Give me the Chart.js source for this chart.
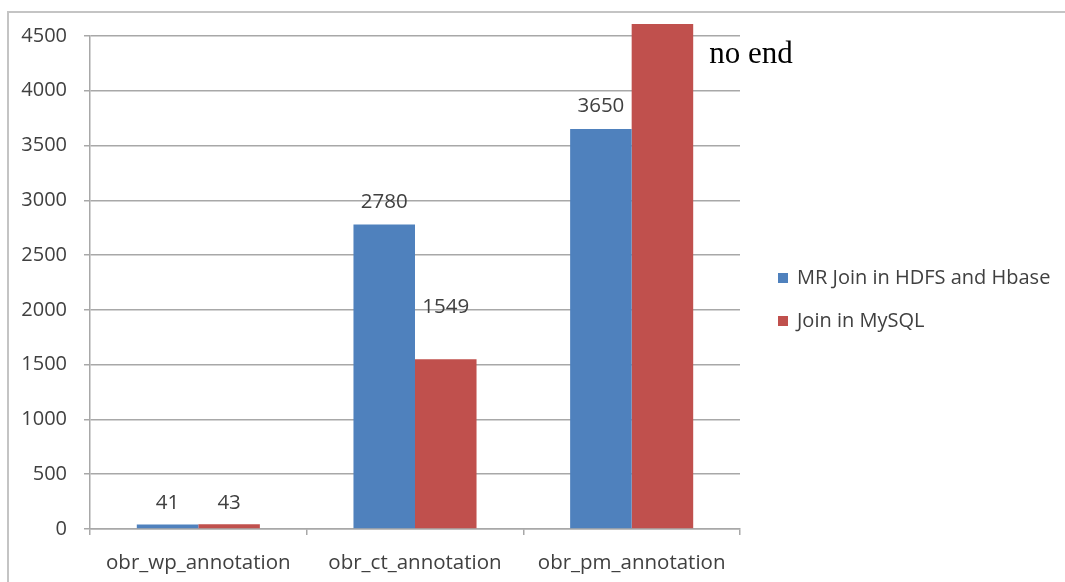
<!DOCTYPE html>
<html><head><meta charset="utf-8">
<script src="https://cdn.jsdelivr.net/npm/chart.js@4/dist/chart.umd.min.js"></script>
<style>
html,body{margin:0;padding:0;background:#fff;width:1065px;height:582px;overflow:hidden}
#frame{position:absolute;left:7px;top:11px;width:1070px;height:580px;border-left:2px solid #c4c4c4;border-top:2px solid #c4c4c4}
#wrap{position:absolute;left:0;top:0;width:1065px;height:582px}
</style></head>
<body><div id="frame"></div><div id="wrap"><canvas id="c" width="1065" height="582"></canvas></div>
<script>
const categories = ['obr_wp_annotation', 'obr_ct_annotation', 'obr_pm_annotation'];
const seriesNames = ['MR Join in HDFS and Hbase', 'Join in MySQL'];
const mrJoin = [41, 2780, 3650];
const mysqlJoin = [43, 1549, 4610];
const yTicks = [0, 500, 1000, 1500, 2000, 2500, 3000, 3500, 4000, 4500];
const noteText = 'no end';

const FONT = '"Open Sans", sans-serif';
const TXT = '#404040';
const colors = ['#4F81BD', '#C0504D'];
// vertical gap (px) between bar top and label centre, per dataset/point
const labelGaps = [[21, 22, 23], [21, 52, 22]];

const extras = {
  id: 'extras',
  afterDatasetsDraw(chart) {
    const ctx = chart.ctx;
    ctx.save();
    ctx.fillStyle = TXT;
    ctx.font = '20.5px ' + FONT;
    ctx.textAlign = 'center';
    ctx.textBaseline = 'middle';
    chart.data.datasets.forEach((ds, di) => {
      chart.getDatasetMeta(di).data.forEach((bar, i) => {
        if (di === 1 && i === 2) return;
        ctx.fillText(String(ds.data[i]), bar.x, bar.y - labelGaps[di][i]);
      });
    });
    const b = chart.getDatasetMeta(1).data[2];
    ctx.fillStyle = '#000';
    ctx.font = '31px "Liberation Serif", "Times New Roman", serif';
    ctx.textAlign = 'left';
    ctx.textBaseline = 'alphabetic';
    ctx.fillText(noteText, b.x + b.width / 2 + 16, 63);
    ctx.font = '20px ' + FONT;
    ctx.textBaseline = 'middle';
    const ly = [278, 321];
    seriesNames.forEach((n, k) => {
      ctx.fillStyle = colors[k];
      ctx.fillRect(778, ly[k] - 5, 10, 10);
      ctx.fillStyle = TXT;
      ctx.fillText(n, 797, ly[k]);
    });
    ctx.restore();
  }
};

new Chart(document.getElementById('c'), {
  type: 'bar',
  data: {
    labels: categories,
    datasets: [
      { label: seriesNames[0], data: mrJoin, backgroundColor: colors[0], categoryPercentage: 0.568, barPercentage: 1, clip: false },
      { label: seriesNames[1], data: mysqlJoin, backgroundColor: colors[1], categoryPercentage: 0.568, barPercentage: 1, clip: false }
    ]
  },
  options: {
    responsive: false,
    animation: false,
    layout: { padding: { left: 0, right: 325, top: 36, bottom: 0 } },
    plugins: { legend: { display: false }, tooltip: { enabled: false } },
    scales: {
      x: {
        grid: { drawOnChartArea: false, drawTicks: true, tickLength: 6, color: '#a8a8a8', lineWidth: 1.5, offset: true },
        border: { color: '#a8a8a8', width: 1.5 },
        ticks: { color: TXT, font: { family: FONT, size: 20.5 }, padding: 16, maxRotation: 0 },
        afterFit(s) { s.height = 53; }
      },
      y: {
        min: 0, max: 4500,
        afterBuildTicks(s) { s.ticks = yTicks.map(v => ({ value: v })); },
        grid: { color: '#a8a8a8', lineWidth: 1.5, tickLength: 6 },
        border: { color: '#a8a8a8', width: 1.5 },
        ticks: { color: TXT, font: { family: FONT, size: 20 }, padding: 17, callback: v => String(v) },
        afterFit(s) { s.width = 90; }
      }
    }
  },
  plugins: [extras]
});
</script>
</body></html>
